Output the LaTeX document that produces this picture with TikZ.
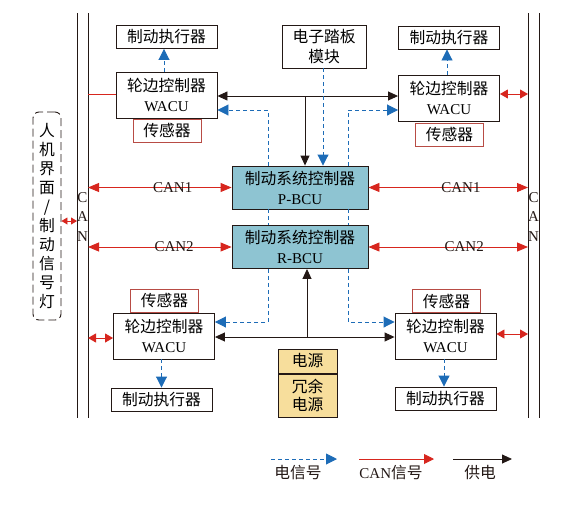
\documentclass[tikz,border=0pt]{standalone}
\usepackage{fontspec}
\setmainfont{Liberation Serif}
\newfontfamily\cjk[Scale=1.05]{Noto Sans CJK SC}
\usetikzlibrary{arrows.meta}
\definecolor{sigblue}{HTML}{1D6CB7}
\definecolor{canred}{HTML}{D7261E}
\definecolor{ink}{HTML}{231815}
\definecolor{bcufill}{HTML}{8EC4D2}
\definecolor{pwrfill}{HTML}{F7DE9C}
\definecolor{senborder}{HTML}{B84C45}
\newcommand\zh[1]{{\cjk #1}}
\begin{document}
\begin{tikzpicture}[x=1pt,y=-1pt,
  latinf/.style={font=\fontsize{15}{20}\selectfont},
  cjkf/.style={font=\fontsize{15}{20}\selectfont\cjk},
  box/.style={draw=ink, line width=0.9pt, inner sep=0pt, align=center, latinf},
  actbox/.style={box, cjkf, minimum width=101pt, minimum height=23pt},
  wacubox/.style={box, minimum width=101pt, minimum height=46pt},
  senbox/.style={box, cjkf, draw=senborder, minimum width=68pt, minimum height=23pt},
  bcubox/.style={box, fill=bcufill, minimum width=136pt, minimum height=43pt},
  pwrbox/.style={box, cjkf, fill=pwrfill, minimum width=59pt, font=\fontsize{15}{18}\selectfont\cjk},
  bus/.style={draw=ink, line width=1pt},
  sig/.style={draw=sigblue, line width=0.9pt, dash pattern=on 4pt off 3pt, -{Triangle[length=11pt,width=11pt]}, sigblue},
  sigline/.style={draw=sigblue, line width=0.9pt, dash pattern=on 4pt off 3pt},
  can/.style={draw=canred, line width=0.9pt, {Triangle[length=11pt,width=9pt]}-{Triangle[length=11pt,width=9pt]}, canred},
  cansmall/.style={draw=canred, line width=0.9pt, {Triangle[length=6pt,width=7pt]}-{Triangle[length=6pt,width=7pt]}, canred},
  canmid/.style={draw=canred, line width=0.9pt, {Triangle[length=8pt,width=9pt]}-{Triangle[length=8pt,width=9pt]}, canred},
  canplain/.style={draw=canred, line width=0.9pt},
  pow/.style={draw=ink, line width=0.9pt, -{Triangle[length=10pt,width=9pt]}, ink},
  lbl/.style={latinf, text=ink, inner sep=0pt},
]
\useasboundingbox (0,0) rectangle (577,504);

% CAN buses
\coordinate (bL1t) at (77,13);  \coordinate (bL1b) at (77,418);
\coordinate (bL2t) at (88,13);  \coordinate (bL2b) at (88,418);
\coordinate (bR1t) at (528,13); \coordinate (bR1b) at (528,418);
\coordinate (bR2t) at (539,13); \coordinate (bR2b) at (539,418);
\draw[bus] (bL1t) -- (bL1b);
\draw[bus] (bL2t) -- (bL2b);
\draw[bus] (bR1t) -- (bR1b);
\draw[bus] (bR2t) -- (bR2b);
\node[lbl, align=center, font=\fontsize{15}{19.5}\selectfont] (canL) at (82.5,217) {C\\A\\N};
\node[lbl, align=center, font=\fontsize{15}{19.5}\selectfont] (canR) at (533.5,217) {C\\A\\N};

% HMI box
\node[draw=ink, line width=0.9pt, dash pattern=on 8pt off 4pt, rounded corners=6pt,
      minimum width=28pt, minimum height=208pt, inner sep=0pt, align=center,
      font=\fontsize{15}{19.1}\selectfont\cjk] (hmi) at (47,216)
      {人\\机\\界\\面\\/\\制\\动\\信\\号\\灯};
\draw[cansmall] ([yshift=-5pt]hmi.east) -- ([yshift=-5pt]hmi.east -| bL1t);

% top left
\node[actbox] (actTL) at (166.5,37) {制动执行器};
\node[wacubox] (wacuTL) at (166.5,95) {\zh{轮边控制器}\\WACU};
\node[senbox] (senTL) at (167,130.5) {传感器};
% top right
\node[actbox] (actTR) at (449,37.5) {制动执行器};
\node[wacubox] (wacuTR) at (449,98) {\zh{轮边控制器}\\WACU};
\node[senbox] (senTR) at (449.5,134.5) {传感器};
% pedal
\node[box, cjkf, minimum width=84pt, minimum height=43pt] (pedal) at (324,46.5) {电子踏板\\模块};
% BCUs
\node[bcubox] (pbcu) at (300,187.5) {\zh{制动系统控制器}\\P-BCU};
\node[bcubox] (rbcu) at (300,247) {\zh{制动系统控制器}\\R-BCU};
% power
\node[pwrbox, minimum height=24pt] (pwr) at (307.5,361) {电源};
\node[pwrbox, minimum height=43pt] (rpwr) at (307.5,395.5) {冗余\\电源};
% bottom left
\node[senbox] (senBL) at (164.5,300.5) {传感器};
\node[wacubox] (wacuBL) at (164,336) {\zh{轮边控制器}\\WACU};
\node[actbox] (actBL) at (161.5,399.5) {制动执行器};
% bottom right
\node[senbox] (senBR) at (446.5,301) {传感器};
\node[wacubox] (wacuBR) at (445.5,336) {\zh{轮边控制器}\\WACU};
\node[actbox] (actBR) at (445.5,398.5) {制动执行器};

% WACU - bus
\draw[canplain] ([yshift=1pt]wacuTL.west) -- ([yshift=1pt]wacuTL.west -| bL2t);
\draw[canmid] ([yshift=4pt]wacuTR.east) -- ([yshift=4pt]wacuTR.east -| bR1t);
\draw[canmid] ([yshift=-2pt]wacuBL.west) -- ([yshift=-2pt]wacuBL.west -| bL2t);
\draw[canmid] ([yshift=2pt]wacuBR.east) -- ([yshift=2pt]wacuBR.east -| bR1t);

% WACU - actuators
\draw[sig] (wacuTL.north -| 164,0) -- (actTL.south -| 164,0);
\draw[sig] (wacuTR.north -| 447,0) -- (actTR.south -| 447,0);
\draw[sig] (wacuBL.south -| actBL.north) -- (actBL.north);
\draw[sig] (wacuBR.south -| 444,0) -- (actBR.north -| 444,0);

% CAN1 / CAN2
\draw[can] (pbcu.west) -- node[lbl, pos=0.41] (c1l) {CAN1} (pbcu.west -| bL2t);
\draw[can] (pbcu.east) -- node[lbl, pos=0.58] (c1r) {CAN1} (pbcu.east -| bR1t);
\draw[can] (rbcu.west) -- node[lbl, pos=0.40] (c2l) {CAN2} (rbcu.west -| bL2t);
\draw[can] (rbcu.east) -- node[lbl, pos=0.60] (c2r) {CAN2} (rbcu.east -| bR1t);

% top power distribution
\coordinate (jT) at (305,96);
\draw[pow] (jT) -- (jT -| wacuTL.east);
\draw[pow] (jT) -- (jT -| wacuTR.west);
\draw[pow] (jT) -- (pbcu.north -| jT);
% pedal signal
\draw[sig] (pedal.south -| 323,0) -- (pbcu.north -| 323,0);
% P-BCU signals to top WACUs
\coordinate (dL) at (268,0);
\coordinate (dR) at (348,0);
\draw[sig] (pbcu.north -| dL) |- ([yshift=-15pt]wacuTL.east);
\draw[sig] (pbcu.north -| dR) |- ([yshift=-12pt]wacuTR.west);
\draw[sigline] (pbcu.south -| dL) -- (rbcu.north -| dL);
\draw[sigline] (pbcu.south -| dR) -- (rbcu.north -| dR);
\draw[sig] (rbcu.south -| dL) |- ([yshift=14pt]wacuBL.east);
\draw[sig] (rbcu.south -| dR) |- ([yshift=14pt]wacuBR.west);

% bottom power distribution
\coordinate (jB) at (307,337);
\draw[pow] (jB) -- (rbcu.south -| jB);
\draw[pow] (jB) -- (jB -| wacuBL.east);
\draw[pow] (jB) -- (jB -| wacuBR.west);

% legend
\coordinate (lgA1) at (271,459); \coordinate (lgA2) at (337,459);
\coordinate (lgB1) at (359,459); \coordinate (lgB2) at (434,459);
\coordinate (lgC1) at (453,459); \coordinate (lgC2) at (512,459);
\draw[sig] (lgA1) -- (lgA2);
\draw[canred, line width=0.9pt, -{Triangle[length=10pt,width=10pt]}] (lgB1) -- (lgB2);
\draw[pow] (lgC1) -- (lgC2);
\node[lbl, cjkf] (lgAt) at (298,473) {电信号};
\node[lbl] (lgBt) at (391,473) {CAN\zh{信号}};
\node[lbl, cjkf] (lgCt) at (480,473) {供电};
\end{tikzpicture}
\end{document}
